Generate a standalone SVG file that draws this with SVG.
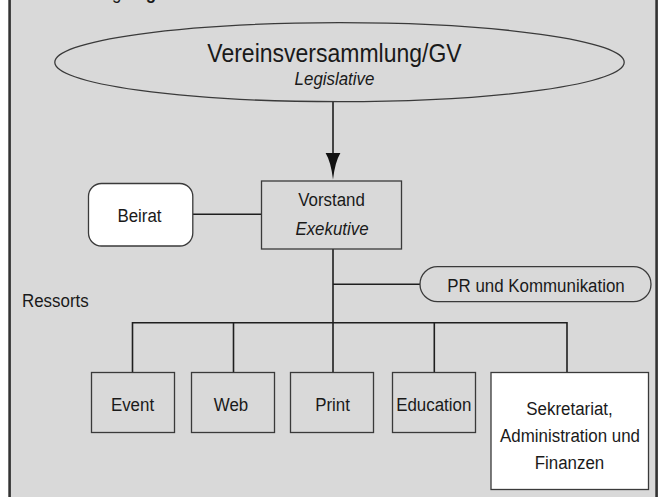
<svg xmlns="http://www.w3.org/2000/svg" width="660" height="497" viewBox="0 0 660 497">
<style>
.t{font-family:"Liberation Sans",Arial,sans-serif;font-size:19px;fill:#1a1a1a}
.it{font-style:italic}
.b{font-weight:bold}
.box{fill:#d9d9d9;stroke:#3a3a3a;stroke-width:1.3}
.wbox{fill:#ffffff;stroke:#3a3a3a;stroke-width:1.3}
.conn{stroke:#1e1e1e;stroke-width:1.6;fill:none}
</style>
<rect x="0" y="0" width="660" height="497" fill="#ffffff"/>
<rect id="frame" x="9.6" y="-10" width="647" height="520" fill="#d9d9d9" stroke="#333333" stroke-width="2.6"/>
<text class="t" transform="translate(36,-1.5) scale(0.89,1)">Darstellung <tspan class="b">Organisation</tspan></text>
<g id="connectors">
  <line class="conn" x1="333" y1="101.5" x2="333" y2="158"/>
  <path d="M325.6,153 L340.4,153 Q335,162 333,179.5 Q331,162 325.6,153 Z" fill="#111111"/>
  <line class="conn" x1="192.8" y1="214.3" x2="261.5" y2="214.3"/>
  <line class="conn" x1="333" y1="249" x2="333" y2="372.5"/>
  <line class="conn" x1="333" y1="284.3" x2="420" y2="284.3"/>
  <polyline class="conn" points="132.5,372.5 132.5,322.7 567,322.7 567,372.5"/>
  <line class="conn" x1="233.5" y1="322.7" x2="233.5" y2="372.5"/>
  <line class="conn" x1="434.3" y1="322.7" x2="434.3" y2="372.5"/>
</g>
<g id="gv">
  <ellipse class="box" cx="339.5" cy="62.2" rx="284.7" ry="39.5"/>
  <text class="t" text-anchor="middle" transform="translate(334.5,62) scale(0.92,1)" style="font-size:25px">Vereinsversammlung/GV</text>
  <text class="t it" text-anchor="middle" transform="translate(334.5,85) scale(0.89,1)">Legislative</text>
</g>
<g id="vorstand">
  <rect class="box" x="261.5" y="181" width="140" height="68"/>
  <text class="t" text-anchor="middle" transform="translate(331.5,206) scale(0.89,1)">Vorstand</text>
  <text class="t it" text-anchor="middle" transform="translate(332,235) scale(0.89,1)">Exekutive</text>
</g>
<g id="beirat">
  <rect class="wbox" x="88.5" y="183.5" width="104.3" height="62.5" rx="13" ry="13"/>
  <text class="t" text-anchor="middle" transform="translate(139.5,221.7) scale(0.89,1)">Beirat</text>
</g>
<g id="pr">
  <rect class="box" x="420" y="266.7" width="231" height="35" rx="17.5" ry="17.5"/>
  <text class="t" text-anchor="middle" transform="translate(536,291.7) scale(0.89,1)">PR und Kommunikation</text>
</g>
<g id="ressorts-label">
  <text class="t" transform="translate(22,307) scale(0.89,1)">Ressorts</text>
</g>
<g id="event">
  <rect class="box" x="91.5" y="372.5" width="83" height="60"/>
  <text class="t" text-anchor="middle" transform="translate(132.5,410.7) scale(0.89,1)">Event</text>
</g>
<g id="web">
  <rect class="box" x="191.5" y="372.5" width="83" height="60"/>
  <text class="t" text-anchor="middle" transform="translate(231,410.7) scale(0.89,1)">Web</text>
</g>
<g id="print">
  <rect class="box" x="290.5" y="372.5" width="83" height="60"/>
  <text class="t" text-anchor="middle" transform="translate(332.5,410.7) scale(0.89,1)">Print</text>
</g>
<g id="education">
  <rect class="box" x="392.5" y="372.5" width="83" height="60"/>
  <text class="t" text-anchor="middle" transform="translate(433.7,410.7) scale(0.89,1)">Education</text>
</g>
<g id="sekretariat">
  <rect class="wbox" x="491" y="372.5" width="157.5" height="117"/>
  <text class="t" text-anchor="middle" transform="translate(569.5,415) scale(0.89,1)">Sekretariat,</text>
  <text class="t" text-anchor="middle" transform="translate(570,441.7) scale(0.89,1)">Administration und</text>
  <text class="t" text-anchor="middle" transform="translate(569.5,469.3) scale(0.89,1)">Finanzen</text>
</g>
</svg>
